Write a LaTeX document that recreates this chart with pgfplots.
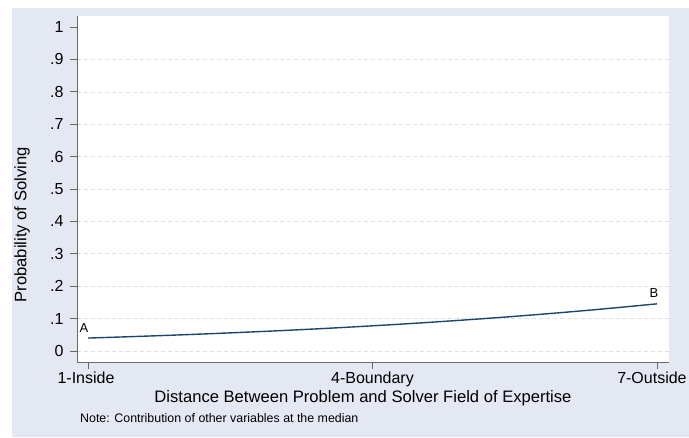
\documentclass[border=0pt]{standalone}
\usepackage{pgfplots}
\pgfplotsset{compat=1.18}
\usepackage{fontspec}
\setmainfont{Liberation Sans}

\definecolor{bgcol}{RGB}{228,232,242}
\definecolor{navy}{RGB}{26,71,111}
\definecolor{axgray}{RGB}{105,105,105}

\begin{document}
\begin{tikzpicture}[x=1pt,y=1pt]
  \useasboundingbox (-77,-75) rectangle (612,362);
  % outer graph region and white plot region
  \fill[bgcol] (-65,-75) rectangle (612,354);
  \fill[white] (0,0) rectangle (592,346);
  \begin{axis}[
      at={(0,0)}, anchor=south west,
      scale only axis,
      width=592pt, height=346pt,
      xmin=0.884, xmax=7.127,
      ymin=-0.034, ymax=1.034,
      axis x line*=bottom,
      axis y line*=left,
      axis line style={axgray, line width=0.9pt, -},
      tick align=outside,
      major tick length=7pt,
      tick style={axgray, line width=0.8pt},
      xtick={1,4,7},
      % last label pulled left so it stays inside the graph region
      xticklabels={1-Inside\kern4pt,4-Boundary,7-Outside\kern10pt},
      ytick={0,0.1,0.2,0.3,0.4,0.5,0.6,0.7,0.8,0.9},
      yticklabels={0,.1,.2,.3,.4,.5,.6,.7,.8,.9},
      extra y ticks={1},
      extra y tick labels={1},
      extra y tick style={grid=none},
      ymajorgrids=true,
      major grid style={gray!25, dash pattern=on 4pt off 3pt, line width=0.6pt},
      ticklabel style={font=\fontsize{16}{18}\selectfont},
      yticklabel style={xshift=-3pt},
      xticklabel style={yshift=1pt},
      /pgf/number format/assume math mode=true,
    ]
    \addplot[navy, line width=1.4pt, smooth] coordinates {
      (1,0.0399) (1.5,0.0447) (2,0.0500) (2.5,0.0559) (3,0.0624)
      (3.5,0.0696) (4,0.0777) (4.5,0.0865) (5,0.0963) (5.5,0.1069)
      (6,0.1187) (6.5,0.1316) (7,0.1455)
    };
  \end{axis}
  % point labels
  \node[font=\fontsize{13}{15}\selectfont] at (7,34) {A};
  \node[font=\fontsize{13}{15}\selectfont] at (577,69) {B};
  % axis titles and note
  \node[rotate=90, font=\fontsize{16.6}{19}\selectfont] at (-55,137) {Probability of Solving};
  \node[font=\fontsize{16.6}{19}\selectfont] at (286,-36) {Distance Between Problem and Solver Field of Expertise};
  \node[anchor=west, inner sep=0pt, font=\fontsize{12.4}{14}\selectfont] at (3,-56) {Note: Contribution of other variables at the median};
\end{tikzpicture}
\end{document}
